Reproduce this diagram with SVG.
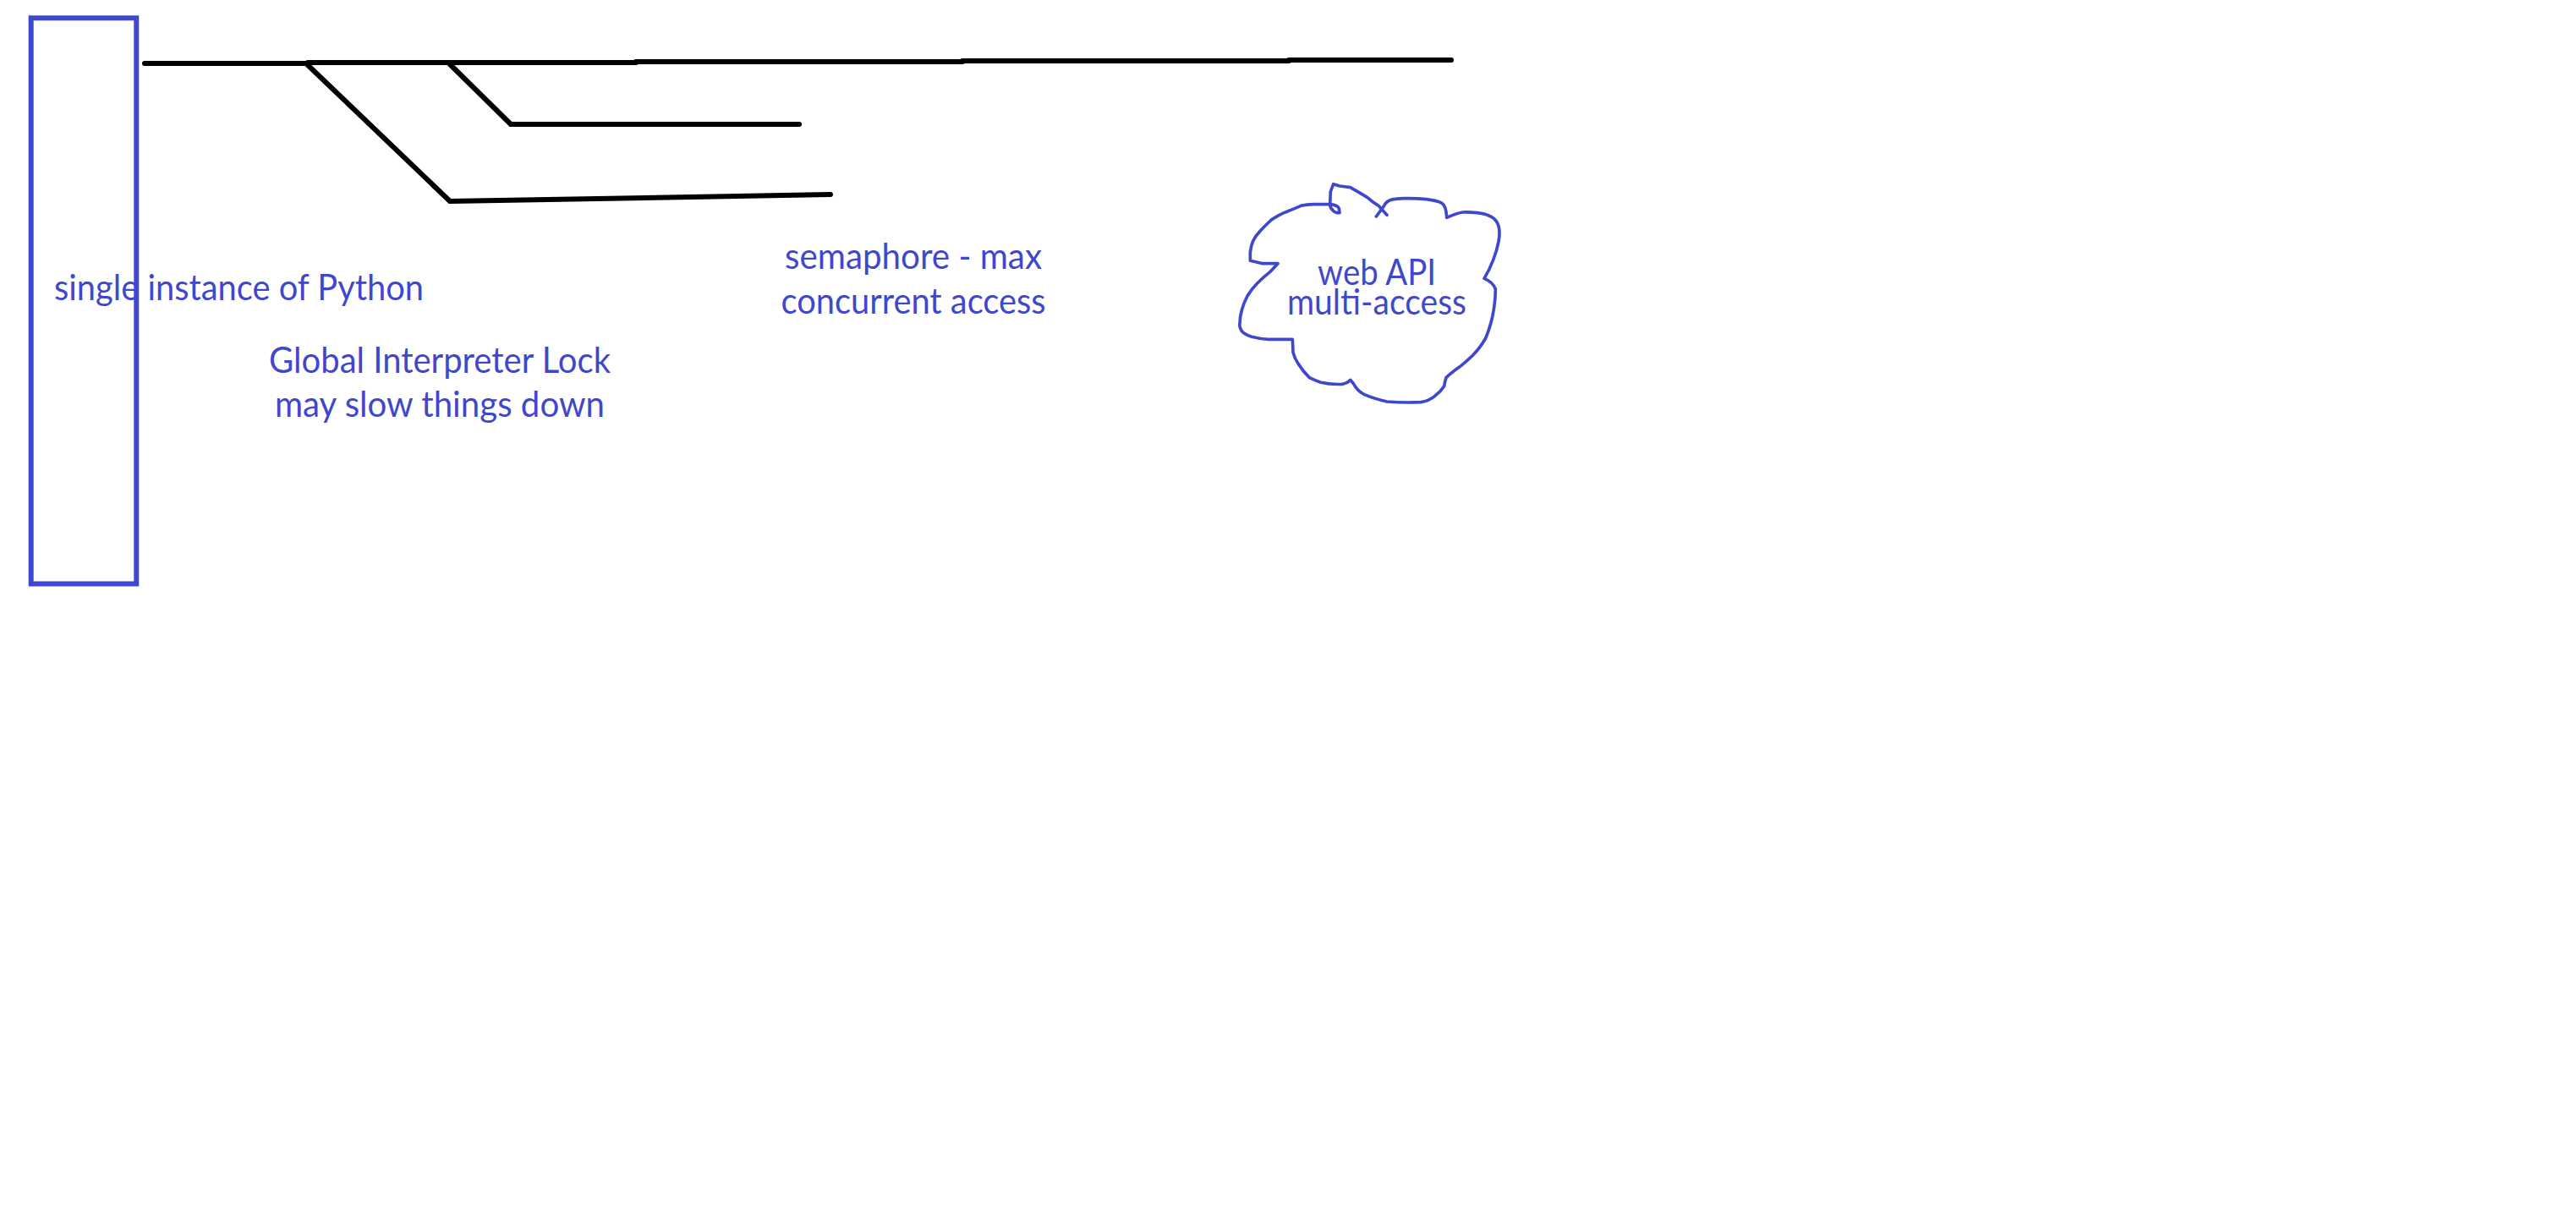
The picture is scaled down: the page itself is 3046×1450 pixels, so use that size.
<svg xmlns="http://www.w3.org/2000/svg" width="3046" height="1450" viewBox="0 0 3046 1450">
<style>
.t{font-family:"Lato","Open Sans",sans-serif;font-size:43px;fill:#3f48cc}
.m{text-anchor:middle}
.l{fill:none;stroke:#000;stroke-width:6;stroke-linecap:round;stroke-linejoin:round}
</style>
<rect width="3046" height="1450" fill="#fff"/>
<g id="instance"><rect x="36.700" y="21.300" width="124.600" height="669.200" fill="none" stroke="#3f48cc" stroke-width="6"/>
<text class="t" x="64" y="355" textLength="437" lengthAdjust="spacingAndGlyphs">single instance of Python</text></g>
<g id="connectors">
<path class="l" d="M171 75H364M364 74H752V73H1138V72H1524V71H1716"/>
<path class="l" d="M364 77L532 238L982 230"/>
<path class="l" d="M532 76L604 147H945"/>
</g>
<g id="gil"><text class="t m" x="520" y="441" textLength="404" lengthAdjust="spacingAndGlyphs">Global Interpreter Lock</text>
<text class="t m" x="520" y="493" textLength="390" lengthAdjust="spacingAndGlyphs">may slow things down</text></g>
<g id="semaphore"><text class="t m" x="1080" y="318" textLength="304" lengthAdjust="spacingAndGlyphs">semaphore - max</text>
<text class="t m" x="1080" y="371" textLength="313" lengthAdjust="spacingAndGlyphs">concurrent access</text></g>
<g id="web-api">
<path transform="translate(1440 200) scale(.33333)" fill="none" stroke="#3f48cc" stroke-width="11" stroke-linejoin="round" stroke-linecap="round" d="M562 168L590 130Q597 115 611 110Q625 105 662 104Q700 103 740 107Q780 112 795 121Q810 130 812 172Q850 155 870 153Q890 152 920 155Q950 158 970 169Q990 180 996 202Q1002 225 996 257Q990 290 977 322Q965 355 945 388Q975 400 985 425Q985 470 975 520Q965 565 950 600Q930 635 905 660Q885 680 860 700Q825 725 810 740Q805 755 803 770Q790 790 770 805Q750 822 720 827Q660 830 600 825Q555 815 520 800Q500 790 490 775Q482 760 470 748Q460 760 440 763Q400 765 365 757Q345 750 325 740Q300 715 285 690Q272 672 267 650L265 604L180 604Q150 603 120 595Q95 587 85 575Q75 560 78 548Q78 525 85 500Q92 475 105 450Q120 425 140 405Q160 385 185 365L213 335L160 335L115 325V295Q117 275 125 255Q135 235 150 220Q170 198 190 180Q212 165 235 155Q265 143 295 130Q315 125 340 125L400 125Q425 128 430 140L432 155Q415 155 410 148Q398 138 398 125L400 80L410 53L432 60Q450 62 470 65Q500 82 530 100Q550 118 570 130L600 163"/>
<text class="t m" x="1628" y="337" textLength="140" lengthAdjust="spacingAndGlyphs">web API</text>
<text class="t m" x="1628" y="372" textLength="212" lengthAdjust="spacingAndGlyphs">multi-access</text></g>
</svg>
